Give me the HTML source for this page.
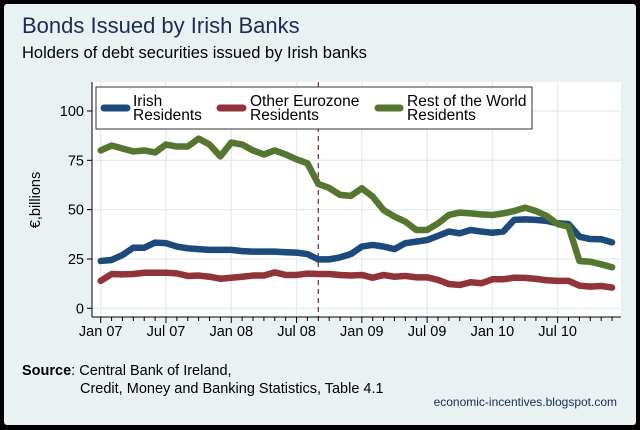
<!DOCTYPE html>
<html><head><meta charset="utf-8"><style>
body{margin:0;background:#000;}
svg{display:block;font-family:"Liberation Sans",sans-serif;}
</style></head><body>
<svg width="640" height="430" viewBox="0 0 640 430">
<rect x="0" y="0" width="640" height="430" fill="#000"/>
<rect x="4" y="4" width="632" height="421" rx="3" fill="#eaf1f3"/>
<text x="22" y="33" font-size="22" fill="#1c2b55">Bonds Issued by Irish Banks</text>
<text x="22" y="58" font-size="16.5" fill="#000">Holders of debt securities issued by Irish banks</text>
<rect x="92" y="82" width="529" height="235" fill="#fff"/>
<g id="grid"></g>
<g id="series"></g>
<g id="axes"></g>
<text transform="translate(40,200) rotate(-90)" text-anchor="middle" font-size="14.5" fill="#000">€,billions</text>
<g>
<rect x="96" y="87" width="436" height="42" fill="#fff" stroke="#333" stroke-width="1"/>
<line x1="104" y1="108" x2="127" y2="108" stroke="#1b4a7c" stroke-width="7" stroke-linecap="round"/>
<text x="133" y="106" font-size="15.5"><tspan x="133">Irish</tspan><tspan x="133" dy="14">Residents</tspan></text>
<line x1="220" y1="108" x2="243" y2="108" stroke="#923339" stroke-width="7" stroke-linecap="round"/>
<text x="250" y="106" font-size="15.5"><tspan x="250">Other Eurozone</tspan><tspan x="250" dy="14">Residents</tspan></text>
<line x1="378" y1="108" x2="400" y2="108" stroke="#55762e" stroke-width="7" stroke-linecap="round"/>
<text x="407" y="106" font-size="15.5"><tspan x="407">Rest of the World</tspan><tspan x="407" dy="14">Residents</tspan></text>
</g>
<text x="22" y="375" font-size="14.5"><tspan font-weight="bold">Source</tspan>: Central Bank of Ireland,</text>
<text x="80" y="393" font-size="14.5">Credit, Money and Banking Statistics, Table 4.1</text>
<text x="617" y="406" text-anchor="end" font-size="12" fill="#1c2b55">economic-incentives.blogspot.com</text>
</svg>
<script>
const irish=[24,24.5,27,30.7,30.7,33.3,33,31.3,30.4,30,29.6,29.6,29.6,29,28.7,28.7,28.7,28.4,28.2,27.5,24.8,24.8,25.8,27.5,31.3,32.1,31.3,30,33,33.8,34.6,36.7,38.9,38,39.7,38.9,38.3,38.9,44.8,45.1,44.8,44.3,43.1,42.7,36.3,35.1,35,33.4];
const eurozone=[13.9,17.4,17.2,17.4,18,18,18,17.7,16.4,16.6,16,15,15.5,16,16.6,16.6,18.2,16.9,16.9,17.6,17.4,17.4,16.9,16.6,16.9,15.5,16.9,16,16.4,15.7,15.7,14.4,12.3,11.8,13.2,12.7,14.7,14.7,15.5,15.4,14.9,14.2,13.9,13.9,11.5,11,11.3,10.5];
const restOfWorld=[80,82.5,81,79.5,80,79,83,82,82,86,83,77,84,83,80,78,80,78,75.5,73.5,63,61,57.5,57,60.8,56.6,49.8,46.5,43.9,39.7,39.7,43,47.3,48.5,48.1,47.6,47.3,48.1,49.3,51,49.3,46.8,42.7,41.4,24,23.6,22.3,20.8];
const yTicks=[0,25,50,75,100];
const xTickLabels=["Jan 07","Jul 07","Jan 08","Jul 08","Jan 09","Jul 09","Jan 10","Jul 10"];
const markerMonth=20;
const NS="http://www.w3.org/2000/svg";
const xs=m=>100.7+m*10.88;
const ys=v=>308.3-v*1.973;
function mk(tag,attrs,parent){const e=document.createElementNS(NS,tag);for(const k in attrs)e.setAttribute(k,attrs[k]);parent.appendChild(e);return e;}
const grid=document.getElementById('grid'),axes=document.getElementById('axes'),ser=document.getElementById('series');
yTicks.forEach(v=>{
 const g=mk('line',{x1:92,x2:621,y1:ys(v),y2:ys(v),stroke:'#e3ebef','stroke-width':1.3},grid);
 
 
 const t=mk('line',{x1:87,x2:92,y1:ys(v),y2:ys(v),stroke:'#000'},axes);
 
 
 const l=mk('text',{x:84,y:ys(v)+5,'text-anchor':'end','font-size':14.5},axes);
 l.textContent=v;
 
 
});
xTickLabels.forEach((s,i)=>{
 const x=xs(i*6);
 const g=mk('line',{x1:x,x2:x,y1:82,y2:317,stroke:'#e3ebef','stroke-width':1.3},grid);
 
 
 const l=mk('text',{x:x,y:336,'text-anchor':'middle','font-size':14.5},axes);
 l.textContent=s;
 
 
});
for(let m=0;m<irish.length;m++){
 const t=mk('line',{x1:xs(m),x2:xs(m),y1:317,y2:m%6===0?323:321,stroke:'#000'},axes);
 
 
}
const ya=mk('line',{x1:92,x2:92,y1:82,y2:317,stroke:'#000'},axes);


const xa=mk('line',{x1:92,x2:621,y1:317,y2:317,stroke:'#000'},axes);


const ml=mk('line',{x1:xs(markerMonth),x2:xs(markerMonth),y1:82,y2:317,stroke:'#923339','stroke-width':1.3,'stroke-dasharray':'5,4'},ser);


function line(data,color,name){
 const p=mk('polyline',{points:data.map((v,i)=>xs(i)+','+ys(v)).join(' '),fill:'none',stroke:color,'stroke-width':6.5,'stroke-linejoin':'round','stroke-linecap':'round'},ser);
 
 
}
line(eurozone,'#923339','line-other-eurozone');
line(irish,'#1b4a7c','line-irish-residents');
line(restOfWorld,'#55762e','line-rest-of-world');
</script>
</body></html>
